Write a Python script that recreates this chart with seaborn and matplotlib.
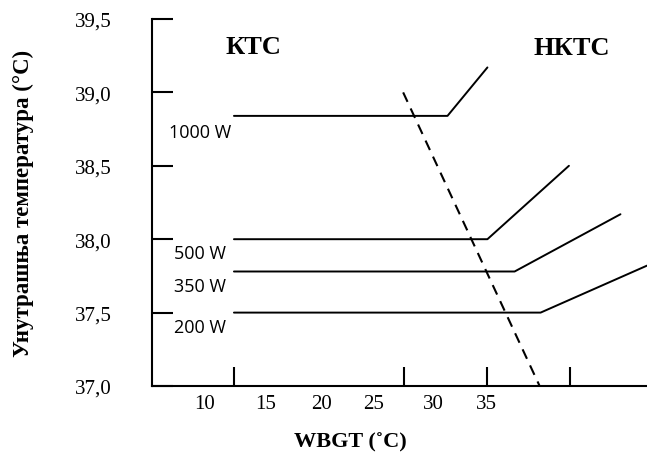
import matplotlib
matplotlib.use("Agg")
import matplotlib.pyplot as plt
import seaborn as sns
import pandas as pd

# ---- data ----
series_names = ["1000 W", "500 W", "350 W", "200 W"]
x_1000 = [12.05, 31.36, 34.97]
y_1000 = [38.84, 38.84, 39.17]
x_500 = [12.05, 34.97, 42.34]
y_500 = [38.0, 38.0, 38.5]
x_350 = [12.05, 37.43, 47.0]
y_350 = [37.78, 37.78, 38.17]
x_200 = [12.05, 39.78, 49.4]
y_200 = [37.5, 37.5, 37.82]
boundary_x = [27.35, 39.69]
boundary_y = [39.0, 37.0]

y_ticks = [37.0, 37.5, 38.0, 38.5, 39.0, 39.5]
y_tick_labels = ["37,0", "37,5", "38,0", "38,5", "39,0", "39,5"]
x_label_pos = [9.4, 14.9, 20.0, 24.7, 30.1, 34.9]
x_tick_labels = ["10", "15", "20", "25", "30", "35"]
x_marks = [12.05, 20.0, 27.4, 34.95, 42.4]

label_pos = {"1000 W": (8.98, 38.73), "500 W": (8.98, 37.906),
             "350 W": (8.98, 37.681), "200 W": (8.98, 37.402)}

sns.set_theme(style="white")
plt.rcParams['font.family'] = ['Liberation Serif', 'DejaVu Serif']
plt.rcParams.update({"text.color": "black", "axes.labelcolor": "black",
                     "xtick.color": "black", "ytick.color": "black"})

fig = plt.figure(figsize=(6.47, 4.56), dpi=100)
ax = fig.add_axes([152 / 647, 69 / 456, 1 - 152 / 647, 367 / 456])

rows = []
for name, xs, ys in [("1000 W", x_1000, y_1000), ("500 W", x_500, y_500),
                     ("350 W", x_350, y_350), ("200 W", x_200, y_200)]:
    for xv, yv in zip(xs, ys):
        rows.append({"series": name, "x": xv, "y": yv})
df = pd.DataFrame(rows)

for name in series_names:
    sub = df[df["series"] == name]
    sns.lineplot(data=sub, x="x", y="y", color="black", lw=1.4, ax=ax,
                 sort=False, estimator=None)

sns.lineplot(x=boundary_x, y=boundary_y, color="black", lw=1.5, ax=ax,
             linestyle=(0, (5, 3.5)), sort=False, estimator=None)

ax.set_xlim(4.64, 49.4)
ax.set_ylim(37.0, 39.5)

for s in ["top", "right"]:
    ax.spines[s].set_visible(False)
for s in ["left", "bottom"]:
    ax.spines[s].set_color("black")
    ax.spines[s].set_linewidth(1.5)

ax.set_yticks(y_ticks)
ax.set_yticklabels(y_tick_labels, fontsize=15, color="black")
ax.tick_params(axis="y", direction="in", length=15, width=1.5, color="black",
               pad=29, left=True)

ax.set_xticks(x_label_pos)
ax.set_xticklabels(x_tick_labels, fontsize=15, color="black")
ax.tick_params(axis="x", which="major", length=0, pad=6)
ax.set_xticks(x_marks, minor=True)
ax.tick_params(axis="x", which="minor", direction="in", length=14, width=1.5,
               color="black", bottom=True)

ax.set_xlabel("WBGT (˚C)", fontsize=16, fontweight="bold", color="black")
ax.set_ylabel("Унутрашња температура (°C)", fontsize=16.5, fontweight="bold",
              color="black")
ax.yaxis.set_label_coords(-(152 - 34) / 495, 0.5)
ax.xaxis.set_label_coords((350 - 152) / 495, -(432 - 387) / 367)

for name in series_names:
    px, py = label_pos[name]
    ax.text(px, py, name, fontsize=13, ha="center", va="center",
            family=["Open Sans", "DejaVu Sans"], color="black")

ax.text(13.77, 39.316, "КТС", fontsize=19, fontweight="bold", ha="center",
        va="center", color="black")
ax.text(42.58, 39.309, "НКТС", fontsize=19, fontweight="bold", ha="center",
        va="center", color="black")

fig.savefig("out.png", dpi=100)
